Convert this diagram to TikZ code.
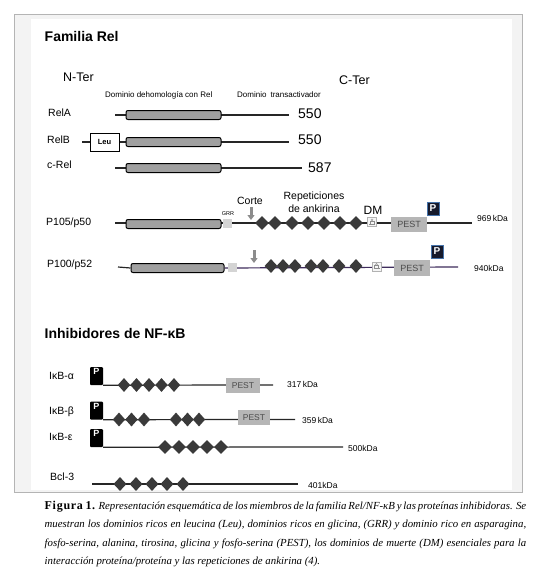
\documentclass[tikz,border=0pt]{standalone}
\usepackage{fontspec}
\setmainfont{Liberation Serif}
\setsansfont{Liberation Sans}
\usetikzlibrary{arrows.meta,shapes.geometric}
\definecolor{frameGray}{RGB}{180,180,180}
\definecolor{bandGray}{RGB}{243,243,243}
\definecolor{barGray}{RGB}{160,160,160}
\definecolor{pestGray}{RGB}{182,182,182}
\definecolor{ankGray}{RGB}{58,58,58}
\definecolor{grrGray}{RGB}{212,212,212}
\definecolor{pNavy}{RGB}{22,26,44}
\definecolor{pBlue}{RGB}{70,115,170}
\definecolor{lineViolet}{RGB}{62,44,92}
\newcommand{\SansAt}[1]{\sffamily\fontsize{#1}{#1}\selectfont}
\tikzset{
  seccion/.style={anchor=west,inner sep=0pt,font=\sffamily\bfseries\fontsize{14}{16}\selectfont},
  terminal/.style={anchor=west,inner sep=0pt,font=\SansAt{12.5}},
  dominio/.style={anchor=west,inner sep=0pt,font=\SansAt{8}},
  protlabel/.style={anchor=west,inner sep=0pt,font=\SansAt{10.5}},
  masa/.style={anchor=west,inner sep=0pt,font=\SansAt{14}},
  kda/.style={anchor=west,inner sep=0pt,font=\SansAt{8.5}},
  backbone/.style={line width=1.2pt,draw=black!85},
  rhd/.style={rounded corners=2pt,draw=black,line width=1pt,fill=barGray,minimum height=9pt,inner sep=0pt},
  leubox/.style={draw=black,line width=0.9pt,fill=white,minimum width=29pt,minimum height=18pt,inner sep=0pt,font=\sffamily\bfseries\fontsize{7.5}{8}\selectfont},
  grr/.style={fill=grrGray,minimum size=9pt,inner sep=0pt},
  ankirina/.style={diamond,fill=ankGray,inner sep=0pt,minimum width=#1,minimum height=14pt},
  ankirina/.default=13pt,
  pest/.style={fill=pestGray,text=black!70,inner sep=0pt,font=\SansAt{8.5}},
  pnavy/.style={fill=pNavy,draw=pBlue,line width=1pt,text=white,minimum width=12pt,minimum height=13pt,inner sep=0pt,font=\sffamily\bfseries\fontsize{10}{10}\selectfont},
  pbox/.style={fill=black,rounded corners=1pt,minimum width=13pt,minimum height=18pt,inner sep=0pt,
    label={[anchor=north,inner sep=1.5pt,text=white,font=\sffamily\bfseries\fontsize{9}{9}\selectfont]north:P}},
  corte/.style={-{Triangle[width=7pt,length=5pt]},line width=3pt,draw=black!45},
  dmicon/.style={draw=black!30,fill=black!4,line width=0.4pt,minimum size=9pt,inner sep=0pt,
    path picture={\draw[black!45,line width=0.4pt] ([shift={(-3pt,-2pt)}]path picture bounding box.center) -- ++(6pt,0pt)
      ([shift={(-2pt,-2pt)}]path picture bounding box.center) -- ++(0pt,3pt) -- ++(4pt,0pt) -- ++(0pt,-3pt);
      \draw[black!45,line width=0.4pt] ([shift={(0pt,2.2pt)}]path picture bounding box.center) circle (1pt);}},
}
\begin{document}
\begin{tikzpicture}[x=1pt,y=-1pt]
\useasboundingbox (0,0) rectangle (537,578);
\fill[bandGray] (14.5,14.5) rectangle (522,492.5);
\draw[frameGray,line width=0.8pt] (14.5,14.5) rectangle (522,492.5);
\fill[white] (31,19.5) rectangle (512,489.5);

\node[seccion] (famRel) at (44.5,36) {Familia Rel};
\node[terminal] (nTer) at (63,77) {N-Ter};
\node[terminal] (cTer) at (339,80.5) {C-Ter};
\node[dominio] (domRhd) at (105,95) {Dominio dehomología con Rel};
\node[dominio] (domTa) at (237,95) {Dominio\enspace transactivador};

% RelA
\node[protlabel] (relA) at (48,112.5) {RelA};
\coordinate (relA-n) at (115,115);
\coordinate (relA-c) at (289,115);
\draw[backbone] (relA-n) -- (relA-c);
\node[rhd,minimum width=95pt] (relA-rhd) at (173.5,115) {};
\node[masa] (relA-m) at (298,113.5) {550};

% RelB
\node[protlabel] (relB) at (47,140) {RelB};
\coordinate (relB-n) at (82,142);
\coordinate (relB-c) at (289,142);
\draw[backbone] (relB-n) -- (relB-c);
\node[leubox] (relB-leu) at (104.5,142) {Leu};
\node[rhd,minimum width=95pt] (relB-rhd) at (173.5,142) {};
\node[masa] (relB-m) at (298,140) {550};

% c-Rel
\node[protlabel] (cRel) at (47,165) {c-Rel};
\coordinate (cRel-n) at (115,168);
\coordinate (cRel-c) at (302,168);
\draw[backbone] (cRel-n) -- (cRel-c);
\node[rhd,minimum width=95pt] (cRel-rhd) at (173.5,168) {};
\node[masa] (cRel-m) at (308,168) {587};

% P105/p50
\node[protlabel] (p105) at (46,223) {P105/p50};
\coordinate (p105-n) at (115,223);
\coordinate (p105-c) at (472,223);
\draw[backbone] (p105-n) -- (p105-c);
\node[rhd,minimum width=95pt] (p105-rhd) at (173.5,224) {};
\node[grr] (p105-grr) at (227.5,223.5) {};
\node[font=\SansAt{5.5},inner sep=0pt] (grrTxt) at (228,214) {GRR};
\coordinate (p105-ca) at (251,207);
\coordinate (p105-cb) at (251,220);
\draw[corte] (p105-ca) -- (p105-cb);
\node[font=\SansAt{10.5},inner sep=0pt] (corteTxt) at (250,201) {Corte};
\node[font=\sffamily\fontsize{10.5}{13}\selectfont,align=center,inner sep=0pt] (repTxt) at (314,202.5) {Repeticiones\\de ankirina};
\foreach \dx [count=\i] in {262,275,292,308,324,340,356}
  \node[ankirina=14pt] (p105-a\i) at (\dx,223) {};
\node[dmicon] (p105-dm) at (372,222) {};
\node[font=\SansAt{12},inner sep=0pt] (dmTxt) at (373,210) {DM};
\node[pest,minimum width=36pt,minimum height=15pt,font=\SansAt{9}] (p105-pest) at (409,224.5) {PEST};
\node[pnavy] (p105-p) at (433,208.5) {P};
\node[kda] (p105-m) at (477,218.5) {969\,kDa};

% P100/p52
\node[protlabel] (p100) at (47,264.5) {P100/p52};
\coordinate (p100-n) at (118,267);
\coordinate (p100-c) at (458,267);
\node[rhd,minimum width=93pt] (p100-rhd) at (177.5,268) {};
\draw[backbone] (p100-n) -- (p100-rhd.west);
\draw[backbone,draw=lineViolet] (p100-rhd.east) -- (p100-c);
\node[grr] (p100-grr) at (232,267.5) {};
\coordinate (p100-ca) at (254,250);
\coordinate (p100-cb) at (254,263);
\draw[corte] (p100-ca) -- (p100-cb);
\foreach \dx [count=\i] in {271,283,295,311,323,339,356}
  \node[ankirina] (p100-a\i) at (\dx,266) {};
\node[dmicon] (p100-dm) at (376.5,266.5) {};
\node[pest,minimum width=36pt,minimum height=16pt,font=\SansAt{9}] (p100-pest) at (412,268) {PEST};
\node[pnavy] (p100-p) at (437,251.5) {P};
\node[kda] (p100-m) at (474,268) {940kDa};

\node[seccion] (inhib) at (44.5,333) {Inhibidores de NF-κB};

% IkB-alfa
\node[protlabel] (ikba) at (49,376) {IκB-α};
\node[pbox] (ikba-p) at (96.5,376) {};
\coordinate (ikba-c) at (273,385);
\draw[backbone] (ikba-p.south east) -- (ikba-c);
\foreach \dx [count=\i] in {124,136.5,149,161.5,174}
  \node[ankirina=12.5pt] (ikba-a\i) at (\dx,385) {};
\node[pest,minimum width=34pt,minimum height=15pt] (ikba-pest) at (243,385.5) {PEST};
\node[kda] (ikba-m) at (287,384) {317\,kDa};

% IkB-beta
\node[protlabel] (ikbb) at (49,411.5) {IκB-β};
\node[pbox] (ikbb-p) at (96.5,410.5) {};
\coordinate (ikbb-c) at (295,419.5);
\draw[backbone] (ikbb-p.south east) -- (ikbb-c);
\foreach \dx [count=\i] in {119,131.5,144,176,187.5,199}
  \node[ankirina=12.5pt] (ikbb-a\i) at (\dx,419.5) {};
\node[pest,minimum width=32pt,minimum height=15pt] (ikbb-pest) at (254,417.5) {PEST};
\node[kda] (ikbb-m) at (302,420) {359\,kDa};

% IkB-epsilon
\node[protlabel] (ikbe) at (49,436.5) {IκB-ε};
\node[pbox] (ikbe-p) at (96.5,438) {};
\coordinate (ikbe-c) at (343,447);
\draw[backbone] (ikbe-p.south east) -- (ikbe-c);
\foreach \dx [count=\i] in {165,179,193,207,221}
  \node[ankirina=14pt] (ikbe-a\i) at (\dx,447) {};
\node[kda] (ikbe-m) at (348,448) {500kDa};

% Bcl-3
\node[protlabel] (bcl3) at (50,477) {Bcl-3};
\coordinate (bcl3-n) at (92,484);
\coordinate (bcl3-c) at (298,484);
\draw[backbone] (bcl3-n) -- (bcl3-c);
\foreach \dx [count=\i] in {120,136,152,167,183}
  \node[ankirina] (bcl3-a\i) at (\dx,484) {};
\node[kda] (bcl3-m) at (308,485) {401kDa};

\node[anchor=base west,inner sep=0pt,text width=481.5pt,align=justify,font=\fontsize{10.8}{18.3}\selectfont] (leyenda) at (44.5,509.5)
{{\fontsize{12}{18.3}\selectfont\bfseries\addfontfeature{LetterSpace=6}Figura 1.} \textit{Representación esquemática de los miembros de la familia Rel/NF-κB y las proteínas inhibidoras. Se\linebreak
muestran los dominios ricos en leucina (Leu), dominios ricos en glicina, (GRR) y dominio rico en asparagina,\linebreak
fosfo-serina, alanina, tirosina, glicina y fosfo-serina (PEST), los dominios de muerte (DM) esenciales para la\linebreak
interacción proteína/proteína y las repeticiones de ankirina (4).}};
\end{tikzpicture}
\end{document}
